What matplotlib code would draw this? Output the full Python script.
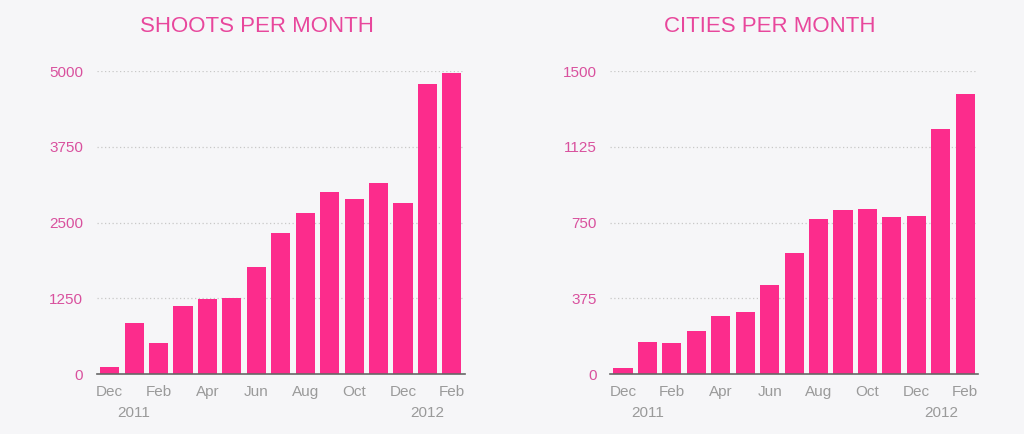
import matplotlib.pyplot as plt

# ── Data ──────────────────────────────────────────────────────────────────────
months = ["Dec", "Jan", "Feb", "Mar", "Apr", "May", "Jun", "Jul",
          "Aug", "Sep", "Oct", "Nov", "Dec", "Jan", "Feb"]
shoots = [121, 838, 507, 1125, 1235, 1262, 1775, 2326,
          2652, 2999, 2894, 3153, 2817, 4796, 4967]
cities = [28, 160, 155, 214, 288, 308, 440, 600,
          766, 813, 818, 780, 783, 1216, 1386]
shoots_ticks = [0, 1250, 2500, 3750, 5000]
cities_ticks = [0, 375, 750, 1125, 1500]
years = [(1, "2011"), (13, "2012")]

# ── Style ─────────────────────────────────────────────────────────────────────
C_BG = "#f6f6f8"
C_BAR = "#fc2c8c"
C_TITLE = "#e8479c"
C_YTICK = "#d9519e"
C_XTICK = "#9a9a9a"
C_GRID = "#c8c8c8"
C_BASE = "#666666"
FONT = "Liberation Sans"

plt.rcParams["font.family"] = [FONT, "DejaVu Sans"]

fig = plt.figure(figsize=(10.24, 4.34), dpi=100)
fig.patch.set_facecolor(C_BG)


def draw_panel(rect, values, yticks, title, title_x):
    ax = fig.add_axes(rect)
    ax.set_facecolor(C_BG)
    x = list(range(len(values)))
    ax.bar(x, values, width=0.78, color=C_BAR, zorder=3)
    ax.set_xlim(-0.52, len(values) - 0.48)
    ax.set_ylim(0, yticks[-1])
    ax.set_yticks(yticks)
    ax.set_yticklabels([str(t) for t in yticks], color=C_YTICK, fontsize=11)
    ax.set_xticks(x[::2])
    ax.set_xticklabels(months[::2], color=C_XTICK, fontsize=11)
    ax.tick_params(axis="both", length=0, pad=8)
    ax.tick_params(axis="y", pad=10)
    for t in yticks[1:]:
        ax.axhline(t, color=C_GRID, linewidth=0.9, linestyle=(0, (1, 2)), zorder=1)
    for s in ["top", "right", "left"]:
        ax.spines[s].set_visible(False)
    ax.spines["bottom"].set_color(C_BASE)
    ax.spines["bottom"].set_linewidth(1.2)
    ax.spines["bottom"].set_zorder(4)
    for pos, label in years:
        ax.text(pos, -0.105, label, transform=ax.get_xaxis_transform(),
                ha="center", va="top", color=C_XTICK, fontsize=11)
    fig.text(title_x, 0.94, title, color=C_TITLE, fontsize=16,
             ha="center", va="center")
    return ax


draw_panel([0.0947, 0.138, 0.359, 0.698], shoots, shoots_ticks,
           "SHOOTS PER MONTH", 257 / 1024)
draw_panel([0.596, 0.138, 0.359, 0.698], cities, cities_ticks,
           "CITIES PER MONTH", 770 / 1024)

fig.savefig("out.png", dpi=100, facecolor=C_BG)
